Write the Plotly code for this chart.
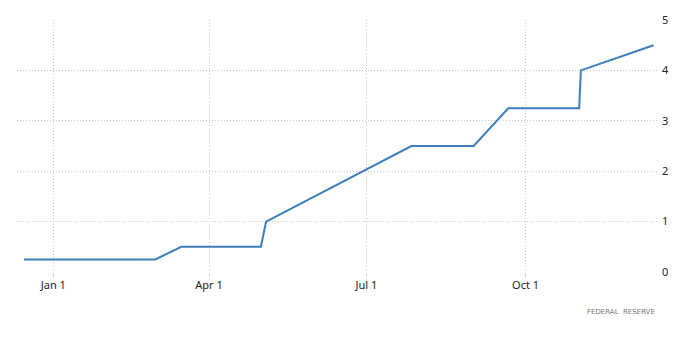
import plotly.graph_objects as go

dates = ["2021-12-15", "2022-03-01", "2022-03-16", "2022-05-01", "2022-05-04",
         "2022-06-15", "2022-07-27", "2022-09-01", "2022-09-21", "2022-11-01",
         "2022-11-02", "2022-12-14"]
rates = [0.25, 0.25, 0.5, 0.5, 1.0, 1.75, 2.5, 2.5, 3.25, 3.25, 4.0, 4.5]

x_tickvals = ["2022-01-01", "2022-04-01", "2022-07-01", "2022-10-01"]
x_ticktext = ["Jan 1", "Apr 1", "Jul 1", "Oct 1"]
y_tickvals = [0, 1, 2, 3, 4, 5]

fig = go.Figure()
fig.add_trace(go.Scatter(x=dates, y=rates, mode="lines",
                         line=dict(color="#3d7ebd", width=2),
                         hoverinfo="skip"))

grid = dict(showgrid=True, gridcolor="#c4c4c4", griddash="1px,2px", gridwidth=1,
            zeroline=False, showline=False)

fig.update_layout(
    width=700, height=361,
    margin=dict(l=17, r=43, t=18, b=89),
    paper_bgcolor="white", plot_bgcolor="white",
    showlegend=False,
    font=dict(family="Noto Sans, DejaVu Sans, sans-serif", size=11, color="#222"),
    xaxis=dict(type="date", range=["2021-12-11", "2022-12-16"],
               tickvals=x_tickvals, ticktext=x_ticktext,
               ticks="outside", ticklen=4, tickcolor="#d0d0d0",
               ticklabelstandoff=-1,
               tickfont=dict(size=11, color="#222"), **grid),
    yaxis=dict(range=[0, 5], tickvals=y_tickvals, side="right",
               ticks="", ticklabelstandoff=4,
               tickfont=dict(size=11, color="#222"), **grid),
    annotations=[dict(text="FEDERAL  RESERVE", xref="paper", yref="paper",
                      x=1, y=-0.16, xanchor="right", yanchor="middle",
                      showarrow=False,
                      font=dict(size=7, color="#777",
                                family="DejaVu Sans, sans-serif"))],
)

fig.write_html("out.html")
